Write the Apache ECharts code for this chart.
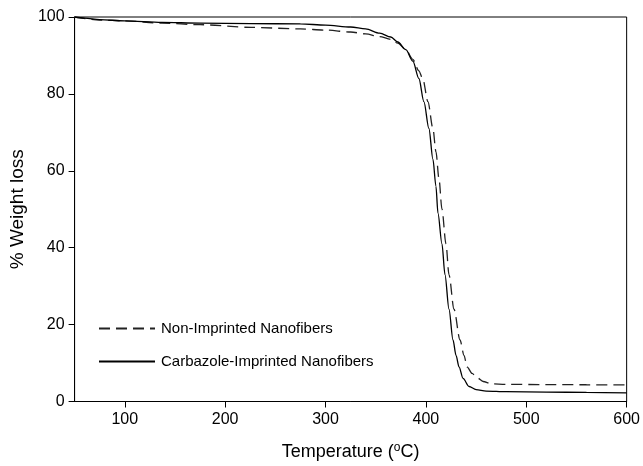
<!DOCTYPE html>
<html>
<head>
<meta charset="utf-8">
<script src="https://cdn.jsdelivr.net/npm/echarts@6/dist/echarts.min.js"></script>
<style>html,body{margin:0;padding:0;background:#fff;}#c{width:643px;height:466px;}</style>
</head>
<body>
<div id="c"></div>
<script>
var seriesNames = ['Non-Imprinted Nanofibers', 'Carbazole-Imprinted Nanofibers'];
var xTicks = [100, 200, 300, 400, 500, 600];
var nonTemp = [50, 75, 100, 137, 175, 226, 275, 300, 325, 340, 354, 365, 372, 380, 387, 393, 397, 402, 407, 410, 413, 416, 420, 423, 428, 434, 438, 441, 446, 451, 457, 465, 480, 520, 560, 600];
var nonVal  = [100, 99.2, 99.0, 98.4, 98.0, 97.3, 96.9, 96.6, 96.1, 95.6, 94.9, 94.2, 93.2, 91.5, 89, 86, 83.8, 78, 71, 65, 58, 50, 41, 33, 24, 16, 12, 9, 7.3, 6.2, 5.2, 4.6, 4.45, 4.4, 4.35, 4.3];
var carTemp = [50, 60, 75, 100, 137, 175, 226, 275, 300, 325, 340, 354, 365, 372, 380, 387, 393, 398, 403, 407, 410, 412, 416, 419, 423, 427, 430, 433, 437, 443, 450, 460, 480, 520, 560, 600];
var carVal  = [100, 99.7, 99.3, 99.0, 98.6, 98.4, 98.3, 98.2, 97.9, 97.4, 96.9, 95.8, 94.8, 93.5, 91.5, 88.5, 84, 78, 71, 63, 56, 49, 41, 33, 24, 16, 12, 9, 6, 3.9, 3.1, 2.7, 2.55, 2.45, 2.35, 2.25];

function zip(a, b) { return a.map(function (v, i) { return [v, b[i]]; }); }

var chart = echarts.init(document.getElementById('c'), null, {renderer: 'canvas'});
var font = 'Liberation Sans, Arial, sans-serif';
chart.setOption({
  animation: false,
  backgroundColor: '#fff',
  grid: {left: 72, right: 16, top: 17, bottom: 61, show: true, borderColor: '#000', borderWidth: 1, containLabel: false},
  legend: {
    orient: 'vertical', left: 93, top: 316, itemWidth: 56, itemHeight: 14, itemGap: 18,
    itemStyle: {opacity: 0},
    textStyle: {fontFamily: font, fontSize: 15, color: '#000', padding: [0, 0, 0, 1]},
    data: seriesNames
  },
  xAxis: {
    type: 'value', min: 50, max: 600,
    name: 'Temperature ({s|o}C)', nameLocation: 'middle', nameGap: 40,
    nameTextStyle: {fontFamily: font, fontSize: 18, color: '#000', rich: {s: {fontFamily: font, fontSize: 12, verticalAlign: 'top', padding: [0, 0, 9, 0], color: '#000'}}},
    axisLine: {lineStyle: {color: '#000', width: 1}},
    axisTick: {show: true, length: 6, customValues: xTicks, lineStyle: {color: '#000'}},
    axisLabel: {customValues: xTicks, fontFamily: font, fontSize: 16, color: '#000', margin: 10},
    splitLine: {show: false}
  },
  yAxis: {
    type: 'value', min: 0, max: 100, interval: 20,
    name: '% Weight loss', nameLocation: 'middle', nameGap: 46,
    nameTextStyle: {fontFamily: font, fontSize: 19, color: '#000'},
    axisLine: {show: true, lineStyle: {color: '#000', width: 1}},
    axisTick: {show: true, length: 6, lineStyle: {color: '#000'}},
    axisLabel: {fontFamily: font, fontSize: 16, color: '#000', margin: 10},
    splitLine: {show: false}
  },
  series: [
    {name: seriesNames[0], type: 'line', data: zip(nonTemp, nonVal), symbol: 'none', smooth: 0.3, smoothMonotone: 'x',
     lineStyle: {color: '#222', width: 1.3, type: [11, 6]}, itemStyle: {color: '#222'}},
    {name: seriesNames[1], type: 'line', data: zip(carTemp, carVal), symbol: 'none', smooth: 0.3, smoothMonotone: 'x',
     lineStyle: {color: '#000', width: 1.3, type: 'solid'}, itemStyle: {color: '#000'}}
  ]
});
</script>
</body>
</html>
